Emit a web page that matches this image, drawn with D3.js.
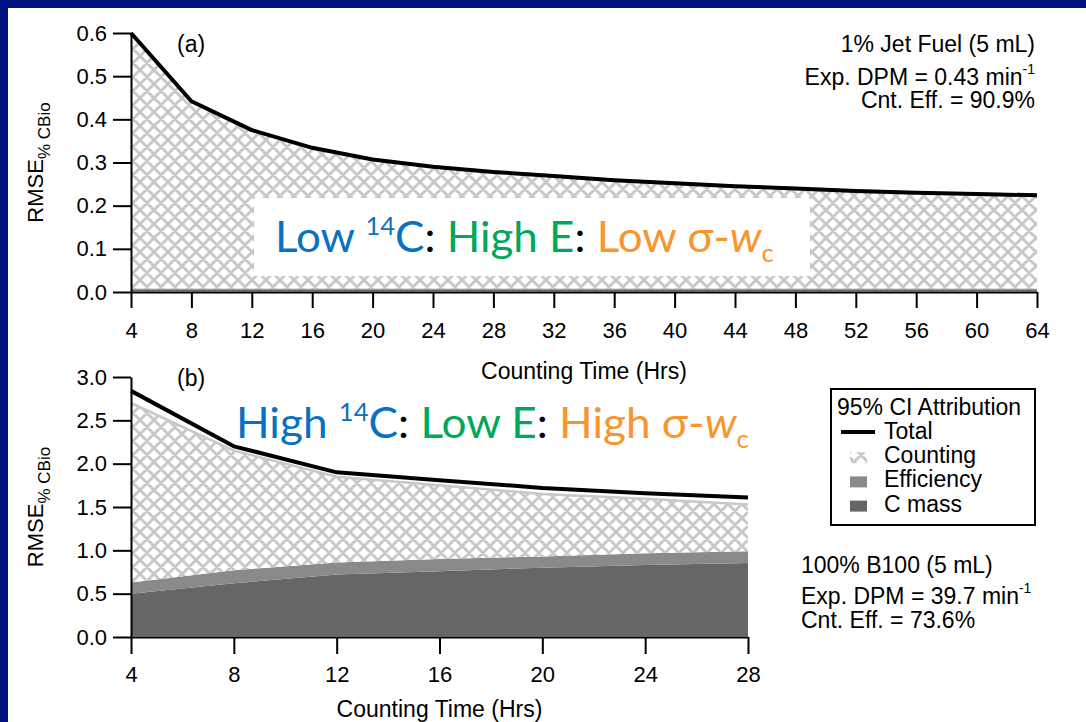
<!DOCTYPE html>
<html lang="en">
<head>
<meta charset="UTF-8" />
<title>RMSE vs counting time</title>
<style>
  html, body { margin: 0; padding: 0; background: #fff; }
  svg { display: block; font-family: "Liberation Sans", Arial, sans-serif; }
  .axis path, .axis line { stroke: #000; stroke-width: 2; }
  .axis text { font-size: 22px; fill: #000; font-family: "Liberation Sans", Arial, sans-serif; }
  .info { font-size: 23px; fill: #000; }
</style>
</head>
<body>
<svg id="chart" width="1086" height="722"></svg>
<script src="https://cdnjs.cloudflare.com/ajax/libs/d3/7.8.5/d3.min.js"></script>
<script>
// panel (a) - 1% jet fuel
const hoursA = [4, 8, 12, 16, 20, 24, 28, 32, 36, 40, 44, 48, 52, 56, 60, 64];
const totalA = [0.600, 0.442, 0.375, 0.334, 0.307, 0.290, 0.278, 0.269, 0.259, 0.252, 0.245, 0.240, 0.234, 0.230, 0.227, 0.224];
const countA = [0.593, 0.435, 0.368, 0.327, 0.300, 0.283, 0.271, 0.262, 0.252, 0.245, 0.238, 0.233, 0.227, 0.223, 0.220, 0.217];
const effA   = [0.003, 0.003, 0.003, 0.003, 0.003, 0.003, 0.003, 0.003, 0.003, 0.003, 0.003, 0.003, 0.003, 0.003, 0.003, 0.003];
const cmassA = [0.005, 0.005, 0.005, 0.005, 0.005, 0.005, 0.005, 0.005, 0.005, 0.005, 0.005, 0.005, 0.005, 0.005, 0.005, 0.005];
const yTicksA = [0, 0.1, 0.2, 0.3, 0.4, 0.5, 0.6];

// panel (b) - 100% B100
const hoursB = [4, 8, 12, 16, 20, 24, 28];
const totalB = [2.84, 2.20, 1.90, 1.81, 1.72, 1.66, 1.61];
const countB = [2.07, 1.38, 0.99, 0.85, 0.72, 0.63, 0.54];
const effB   = [0.13, 0.15, 0.14, 0.14, 0.13, 0.135, 0.135];
const cmassB = [0.50, 0.62, 0.72, 0.76, 0.80, 0.83, 0.855];
const yTicksB = [0, 0.5, 1.0, 1.5, 2.0, 2.5, 3.0];

const legendTitle = "95% CI Attribution";
const legendLabels = ["Total", "Counting", "Efficiency", "C mass"];

const colors = { cmass: "#666666", eff: "#8a8a8a", hatch: "#c8c8c8", navy: "#001080",
  blue: "#0a70c2", green: "#00a859", orange: "#f7962e" };

const svg = d3.select("#chart");

// hatch pattern for the counting part
const defs = svg.append("defs");
const pat = defs.append("pattern").attr("id", "hatch")
  .attr("patternUnits", "userSpaceOnUse").attr("width", 14).attr("height", 14);
pat.append("rect").attr("width", 14).attr("height", 14).attr("fill", "#fff");
pat.append("path")
  .attr("d", "M-3.5,3.5L3.5,-3.5M0,14L14,0M10.5,17.5L17.5,10.5M-3.5,10.5L3.5,17.5M0,0L14,14M10.5,-3.5L17.5,3.5")
  .attr("stroke", colors.hatch).attr("stroke-width", 2.9);

// navy frame (top and left only)
svg.append("rect").attr("x", 0).attr("y", 0).attr("width", 1086).attr("height", 8).attr("fill", colors.navy);
svg.append("rect").attr("x", 0).attr("y", 0).attr("width", 8).attr("height", 722).attr("fill", colors.navy);

function drawPanel(opt) {
  const g = svg.append("g");
  const x = d3.scaleLinear().domain(opt.xDomain).range(opt.xRange);
  const y = d3.scaleLinear().domain(opt.yDomain).range(opt.yRange);

  const rows = opt.hours.map((h, i) => ({ h: h, cmass: opt.cmass[i], eff: opt.eff[i], count: opt.count[i] }));
  const series = d3.stack().keys(["cmass", "eff", "count"])(rows);

  // x axis goes under the data
  g.append("g").attr("class", "axis")
    .attr("transform", `translate(0,${opt.yRange[0]})`)
    .call(d3.axisBottom(x).tickValues(opt.hours).tickSize(opt.xTickSize).tickSizeOuter(0).tickPadding(opt.xPad));

  const area = d3.area()
    .x(d => x(d.data.h))
    .y0(d => y(d[0]))
    .y1(d => y(d[1]));
  const fills = { cmass: colors.cmass, eff: colors.eff, count: "url(#hatch)" };
  g.selectAll(".layer").data(series).join("path")
    .attr("class", "layer")
    .attr("d", area)
    .attr("fill", s => fills[s.key]);

  // light outline on top of counting
  g.append("path")
    .attr("d", d3.line().x(d => x(d.data.h)).y(d => y(d[1]))(series[2]))
    .attr("fill", "none").attr("stroke", colors.hatch).attr("stroke-width", 2.5);

  if (opt.after) opt.after(g, x, y);

  g.append("path")
    .attr("d", d3.line().x((d, i) => x(opt.hours[i])).y(d => y(d))(opt.total))
    .attr("fill", "none").attr("stroke", "#000").attr("stroke-width", 4)
    .attr("stroke-linejoin", "round");

  g.append("g").attr("class", "axis")
    .attr("transform", `translate(${opt.xRange[0]},0)`)
    .call(d3.axisLeft(y).tickValues(opt.yTicks).tickSize(18).tickSizeOuter(0).tickPadding(6).tickFormat(d3.format(".1f")));

  // y title
  const yt = g.append("text")
    .attr("transform", `translate(43,${(opt.yRange[0] + opt.yRange[1]) / 2}) rotate(-90)`)
    .attr("text-anchor", "middle").style("font-size", "22px");
  yt.append("tspan").text("RMSE");
  yt.append("tspan").text("% CBio").attr("dy", 7).style("font-size", "17px");

  // x title
  g.append("text").attr("class", "info")
    .attr("x", (opt.xRange[0] + opt.xRange[1]) / 2).attr("y", opt.xTitleY)
    .attr("text-anchor", "middle").text("Counting Time (Hrs)");

  g.append("text").attr("class", "info").attr("x", 177).attr("y", opt.tagY).text(opt.tag);
  return { g, x, y };
}

function fancyLabel(g, x0, base, width, parts) {
  const t = g.append("text").attr("x", x0).attr("y", base)
    .style("font-family", "Lato, 'Open Sans', sans-serif").style("font-size", "43px");
  parts.forEach(p => {
    const s = t.append("tspan").text(p.t).attr("fill", p.c);
    if (p.dy) s.attr("dy", p.dy);
    if (p.size) s.style("font-size", p.size + "px");
    if (p.it) s.style("font-style", "italic");
  });
  const w = t.node().getComputedTextLength();
  const sx = width / w;
  t.attr("transform", `translate(${x0},0) scale(${sx},1) translate(${-x0},0)`);
}

function infoBlock(g, x0, baselines, anchor, lines) {
  lines.forEach((ln, i) => {
    const t = g.append("text").attr("class", "info").attr("x", x0).attr("y", baselines[i]).attr("text-anchor", anchor);
    t.append("tspan").text(ln[0]);
    if (ln[1]) t.append("tspan").text(ln[1]).attr("dy", -11).style("font-size", "14px");
  });
}

// ---- panel (a)
drawPanel({
  hours: hoursA, total: totalA, count: countA, eff: effA, cmass: cmassA, yTicks: yTicksA,
  xDomain: [4, 64], xRange: [131, 1037], yDomain: [0, 0.6], yRange: [292, 33],
  xTickSize: 16, xPad: 14, xTitleY: 379, tag: "(a)", tagY: 52,
  after: (g) => {
    g.append("rect").attr("x", 254).attr("y", 198).attr("width", 556).attr("height", 78).attr("fill", "#fff");
    fancyLabel(g, 275, 252, 499, [
      { t: "Low ", c: colors.blue },
      { t: "14", c: colors.blue, size: 25, dy: -17 },
      { t: "C", c: colors.blue, dy: 17 },
      { t: ": ", c: "#000" },
      { t: "High E", c: colors.green },
      { t: ": ", c: "#000" },
      { t: "Low \u03C3-", c: colors.orange },
      { t: "w", c: colors.orange, it: true },
      { t: "c", c: colors.orange, size: 25, dy: 10 }
    ]);
  }
});
infoBlock(svg, 1035, [52, 85, 108], "end", [
  ["1% Jet Fuel (5 mL)"],
  ["Exp. DPM = 0.43 min", "-1"],
  ["Cnt. Eff. = 90.9%"]
]);

// ---- panel (b)
const pb = drawPanel({
  hours: hoursB, total: totalB, count: countB, eff: effB, cmass: cmassB, yTicks: yTicksB,
  xDomain: [4, 28], xRange: [131, 748], yDomain: [0, 3], yRange: [637, 377],
  xTickSize: 17, xPad: 12, xTitleY: 717, tag: "(b)", tagY: 386
});
fancyLabel(pb.g, 236, 438, 513, [
  { t: "High ", c: colors.blue },
  { t: "14", c: colors.blue, size: 25, dy: -17 },
  { t: "C", c: colors.blue, dy: 17 },
  { t: ": ", c: "#000" },
  { t: "Low E", c: colors.green },
  { t: ": ", c: "#000" },
  { t: "High \u03C3-", c: colors.orange },
  { t: "w", c: colors.orange, it: true },
  { t: "c", c: colors.orange, size: 25, dy: 10 }
]);

infoBlock(svg, 801, [573, 604, 628], "start", [
  ["100% B100 (5 mL)"],
  ["Exp. DPM = 39.7 min", "-1"],
  ["Cnt. Eff. = 73.6%"]
]);

// legend
const lg = svg.append("g");
lg.append("rect").attr("x", 831).attr("y", 389).attr("width", 204).attr("height", 136)
  .attr("fill", "#fff").attr("stroke", "#000").attr("stroke-width", 2);
lg.append("text").attr("class", "info").attr("x", 837).attr("y", 415).text(legendTitle);
const swatch = ["line", "url(#hatch)", colors.eff, colors.cmass];
legendLabels.forEach((lab, i) => {
  const base = 439 + i * 24.2;
  if (swatch[i] === "line") {
    lg.append("line").attr("x1", 841).attr("x2", 875).attr("y1", base - 7).attr("y2", base - 7)
      .attr("stroke", "#000").attr("stroke-width", 4);
  } else {
    lg.append("rect").attr("x", 850).attr("y", base - 11).attr("width", 17).attr("height", 11)
      .attr("fill", swatch[i]);
  }
  lg.append("text").attr("class", "info").attr("x", 884).attr("y", base).text(lab);
});
</script>
</body>
</html>
